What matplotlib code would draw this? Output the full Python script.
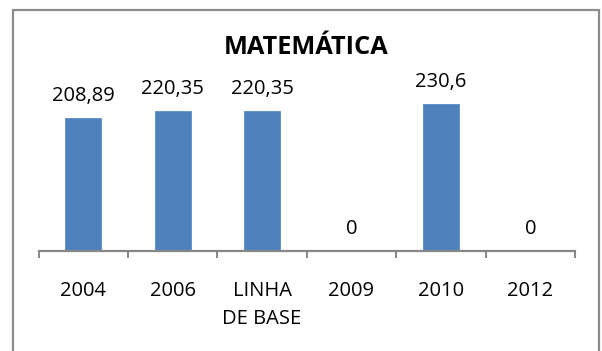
import numpy as np
import matplotlib
matplotlib.use("Agg")
import matplotlib.pyplot as plt
from matplotlib.patches import Rectangle

categories = ["2004", "2006", "LINHA\nDE BASE", "2009", "2010", "2012"]
values = [208.89, 220.35, 220.35, 0, 230.6, 0]
value_labels = ["208,89", "220,35", "220,35", "0", "230,6", "0"]

plt.rcParams['font.family'] = ['Open Sans', 'DejaVu Sans']

W, H = 602, 351
fig = plt.figure(figsize=(W / 100, H / 100), dpi=100)

# outer chart border (bottom edge runs off the canvas)
fig.patches.append(Rectangle((13 / W, -0.05), 586 / W, 1 - 10 / H + 0.05,
                             transform=fig.transFigure, fill=False,
                             edgecolor='#8c8c8c', linewidth=1.6))

ax = fig.add_axes([38.5 / W, 1 - 250.5 / H, (575 - 38.5) / W, (250.5 - 91.7) / H])

x = np.arange(len(categories))
ax.bar(x, values, width=0.4, color='#4f81bd', edgecolor='#5a8ac6', linewidth=0.6)

for xi, v, lab in zip(x, values, value_labels):
    ax.annotate(lab, (xi, v), xytext=(0, 15.5), textcoords='offset points',
                ha='center', va='center', fontsize=14.5, color='black',
                annotation_clip=False)

ax.set_xlim(-0.5, len(categories) - 0.5)
ax.set_ylim(0, 250)

for s in ['top', 'right', 'left']:
    ax.spines[s].set_visible(False)
ax.spines['bottom'].set_color('#878787')
ax.spines['bottom'].set_linewidth(1.6)

ax.set_yticks([])
ax.set_xticks(np.arange(len(categories) + 1) - 0.5)
ax.set_xticklabels([])
ax.set_xticks(x, minor=True)
ax.set_xticklabels(categories, minor=True, fontsize=14.5, linespacing=1.55)
ax.tick_params(axis='x', which='major', length=5, width=1.4, color='#878787', direction='out')
ax.tick_params(axis='x', which='minor', length=0, pad=22)

fig.text(306 / W, 1 - 47.5 / H, "MATEMÁTICA", ha='center', va='center',
         fontsize=18.3, fontweight='bold')

fig.savefig("out.png", dpi=100, facecolor='white')
